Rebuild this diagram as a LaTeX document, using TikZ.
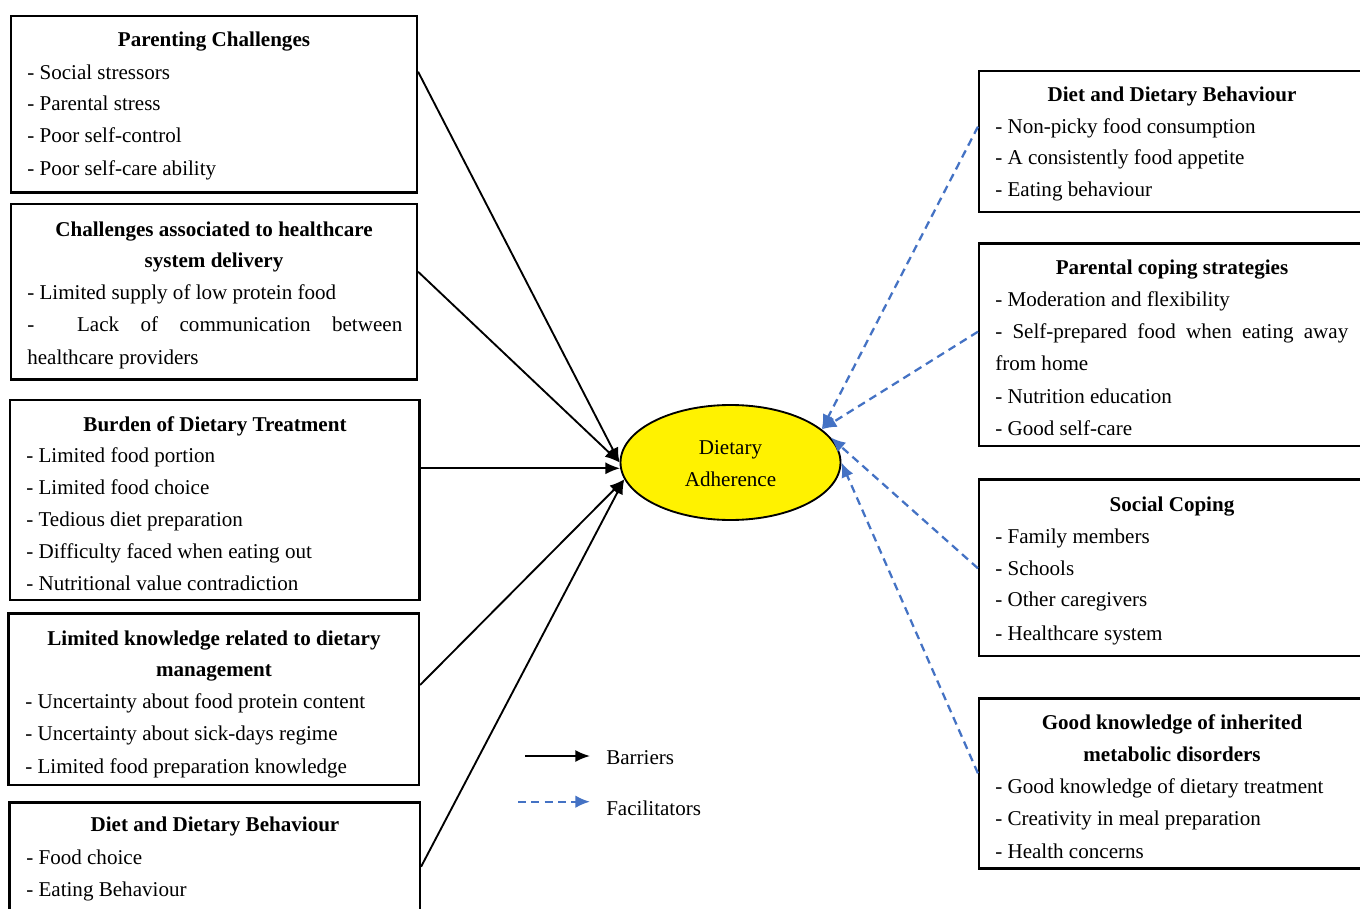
\documentclass[tikz,border=0pt]{standalone}
\usepackage{fontspec}
\setmainfont{Liberation Serif}
\usetikzlibrary{arrows.meta,shapes.geometric}
\definecolor{fblue}{HTML}{4472C4}
\begin{document}
\begin{tikzpicture}[x=0.75pt,y=-0.75pt,
  box/.style={draw,line width=1.6pt,inner sep=0pt,rectangle},
  ttl/.style={anchor=base,inner sep=0pt,font=\fontsize{15.8}{18}\selectfont\bfseries},
  itm/.style={anchor=base west,inner sep=0pt,font=\fontsize{15.8}{18}\selectfont},
  ctr/.style={anchor=base,inner sep=0pt,font=\fontsize{15.8}{18}\selectfont},
  barrier/.style={line width=1.4pt,-{Latex[length=11pt,width=9pt]}},
  facil/.style={line width=1.7pt,fblue,dash pattern=on 6pt off 4pt,-{Latex[length=11pt,width=9.5pt]}}]
\useasboundingbox (0,0) rectangle (1360,909);
\clip (0,0) rectangle (1360,909);
\fill[white] (0,0) rectangle (1360,909);

% ---------- left boxes ----------
\node[box,minimum width=304.5pt,minimum height=132.4pt] (b1) at (214,104.25) {};
\node[ttl] (b1t) at (214,46.7) {Parenting Challenges};
\node[itm] (b1a) at (27,79.3) {- Social stressors};
\node[itm] (b1b) at (27,110.7) {- Parental stress};
\node[itm] (b1c) at (27,142.7) {- Poor self-control};
\node[itm] (b1d) at (27,175.7) {- Poor self-care ability};

\node[box,minimum width=304.5pt,minimum height=131.6pt] (b2) at (214,291.75) {};
\node[ttl] (b2t) at (214,236.7) {Challenges associated to healthcare};
\node[ttl] (b2u) at (214,267.7) {system delivery};
\node[itm] (b2a) at (27,299.3) {- Limited supply of low protein food};
\node[itm] (b2b) at (27,331.7) {\makebox[281.25pt][s]{- \ Lack of communication between}};
\node[itm] (b2c) at (27,364) {healthcare providers};

\node[box,minimum width=307.1pt,minimum height=150pt] (b3) at (214.75,500) {};
\node[ttl] (b3t) at (215,431.7) {Burden of Dietary Treatment};
\node[itm] (b3a) at (26,462.7) {- Limited food portion};
\node[itm] (b3b) at (26,494.3) {- Limited food choice};
\node[itm] (b3c) at (26,526.7) {- Tedious diet preparation};
\node[itm] (b3d) at (26,558.3) {- Difficulty faced when eating out};
\node[itm] (b3e) at (26,590) {- Nutritional value contradiction};

\node[box,minimum width=307.9pt,minimum height=128.6pt] (b4) at (213.75,699.25) {};
\node[ttl] (b4t) at (214,645) {Limited knowledge related to dietary};
\node[ttl] (b4u) at (214,676) {management};
\node[itm] (b4a) at (25,708.3) {- Uncertainty about food protein content};
\node[itm] (b4b) at (25,740.7) {- Uncertainty about sick-days regime};
\node[itm] (b4c) at (25,773.3) {- Limited food preparation knowledge};

\node[box,minimum width=307.9pt,minimum height=118.1pt] (b5) at (214.75,881.25) {};
\node[ttl] (b5t) at (215,831.7) {Diet and Dietary Behaviour};
\node[itm] (b5a) at (26,864.3) {- Food choice};
\node[itm] (b5b) at (26,896) {- Eating Behaviour};

% ---------- right boxes ----------
\node[box,minimum width=290.25pt,minimum height=105.75pt] (b6) at (1172.5,141.5) {};
\node[ttl] (b6t) at (1172,101.7) {Diet and Dietary Behaviour};
\node[itm] (b6a) at (995,134) {- Non-picky food consumption};
\node[itm] (b6b) at (995,165) {- A consistently food appetite};
\node[itm] (b6c) at (995,196.7) {- Eating behaviour};

\node[box,minimum width=290.25pt,minimum height=151.9pt] (b7) at (1172.5,344.75) {};
\node[ttl] (b7t) at (1172,275) {Parental coping strategies};
\node[itm] (b7a) at (995,306.7) {- Moderation and flexibility};
\node[itm] (b7b) at (995,338.3) {\makebox[264.75pt][s]{- Self-prepared food when eating away}};
\node[itm] (b7c) at (995,370) {from home};
\node[itm] (b7d) at (995,403.3) {- Nutrition education};
\node[itm] (b7e) at (995,435) {- Good self-care};

\node[box,minimum width=290.25pt,minimum height=132.4pt] (b8) at (1172.5,567.75) {};
\node[ttl] (b8t) at (1172,511.7) {Social Coping};
\node[itm] (b8a) at (995,543.3) {- Family members};
\node[itm] (b8b) at (995,575) {- Schools};
\node[itm] (b8c) at (995,606.7) {- Other caregivers};
\node[itm] (b8d) at (995,640) {- Healthcare system};

\node[box,minimum width=290.25pt,minimum height=127.5pt] (b9) at (1172.5,783.5) {};
\node[ttl] (b9t) at (1172,729.3) {Good knowledge of inherited};
\node[ttl] (b9u) at (1172,761.7) {metabolic disorders};
\node[itm] (b9a) at (995,793.3) {- Good knowledge of dietary treatment};
\node[itm] (b9b) at (995,825) {- Creativity in meal preparation};
\node[itm] (b9c) at (995,858.3) {- Health concerns};

% ---------- centre ----------
\node[ellipse,draw,line width=1.4pt,fill=yellow,minimum width=165pt,minimum height=86.25pt,inner sep=0pt] (ell) at (730.5,462.5) {};
\node[ctr] (ellt1) at (730.5,454) {Dietary};
\node[ctr] (ellt2) at (730.5,486) {Adherence};

% ---------- barriers ----------
\draw[barrier] (b1.east |- {(0,71.7)}) -- (ell.west);
\draw[barrier] (b2.east |- {(0,271.7)}) -- (ell.west);
\draw[barrier] (b3.east |- ell.183) -- (ell.183);
\draw[barrier] (b4.east |- {(0,685)}) -- (ell.189);
\draw[barrier] (b5.east |- {(0,866.7)}) -- (ell.189);

% ---------- facilitators ----------
\draw[facil] (b6.west |- {(0,126.7)}) -- (ell.20);
\draw[facil] (b7.west |- {(0,331.7)}) -- (ell.20);
\draw[facil] (b8.west |- {(0,568.3)}) -- (ell.14);
\draw[facil] (b9.west |- {(0,773.3)}) -- (ell.east);

% ---------- legend ----------
\coordinate (lga) at (525,756);
\coordinate (lgb) at (590,756);
\coordinate (lgc) at (518,801.7);
\coordinate (lgd) at (590,801.7);
\draw[barrier] (lga) -- (lgb);
\draw[facil] (lgc) -- (lgd);
\node[itm] (lgbar) at (606,764) {Barriers};
\node[itm] (lgfac) at (606,815) {Facilitators};
\end{tikzpicture}
\end{document}
